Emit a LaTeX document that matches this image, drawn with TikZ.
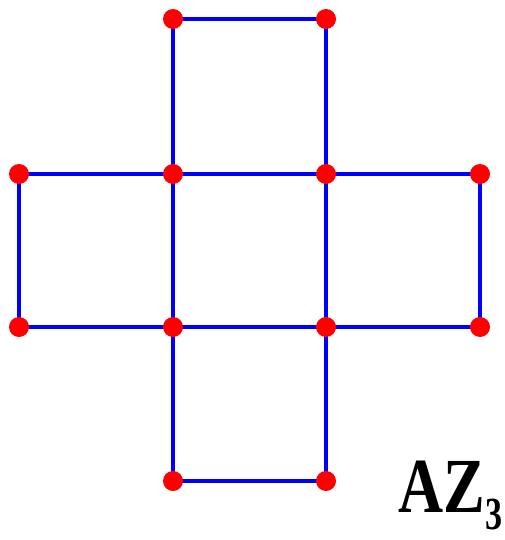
\documentclass[tikz,border=0pt]{standalone}
\usepackage{fontspec}
\setmainfont{Liberation Serif}
\begin{document}
\begin{tikzpicture}[x=1pt,y=-1pt,
  edge/.style={draw=blue,line width=3.4pt},
  dot/.style={circle,fill=red,draw=none,inner sep=0pt,minimum size=20pt},
  lbl/.style={inner sep=0pt,xscale=0.8}]
\useasboundingbox (0,0) rectangle (504,540);
\coordinate (t1) at (173,19);
\coordinate (t2) at (326,19);
\coordinate (m1) at (19,174);
\coordinate (m2) at (173,174);
\coordinate (m3) at (326,174);
\coordinate (m4) at (480,174);
\coordinate (n1) at (19,327);
\coordinate (n2) at (173,327);
\coordinate (n3) at (326,327);
\coordinate (n4) at (480,327);
\coordinate (b1) at (173,481);
\coordinate (b2) at (326,481);
\draw[edge] (t1) -- (t2);
\draw[edge] (t1) -- (m2);
\draw[edge] (t2) -- (m3);
\draw[edge] (m1) -- (m2) -- (m3) -- (m4);
\draw[edge] (n1) -- (n2) -- (n3) -- (n4);
\draw[edge] (m1) -- (n1);
\draw[edge] (m2) -- (n2);
\draw[edge] (m3) -- (n3);
\draw[edge] (m4) -- (n4);
\draw[edge] (n2) -- (b1);
\draw[edge] (n3) -- (b2);
\draw[edge] (b1) -- (b2);
\foreach \p in {t1,t2,m1,m2,m3,m4,n1,n2,n3,n4,b1,b2}
  \node[dot] (d\p) at (\p) {};
\node[lbl,anchor=base west] (az) at (398,512) {\fontsize{78}{78}\selectfont\bfseries AZ};
\node[inner sep=0pt,xscale=0.74,anchor=base west] (sub) at (485,529) {\fontsize{46}{46}\selectfont\bfseries 3};
\end{tikzpicture}
\end{document}
